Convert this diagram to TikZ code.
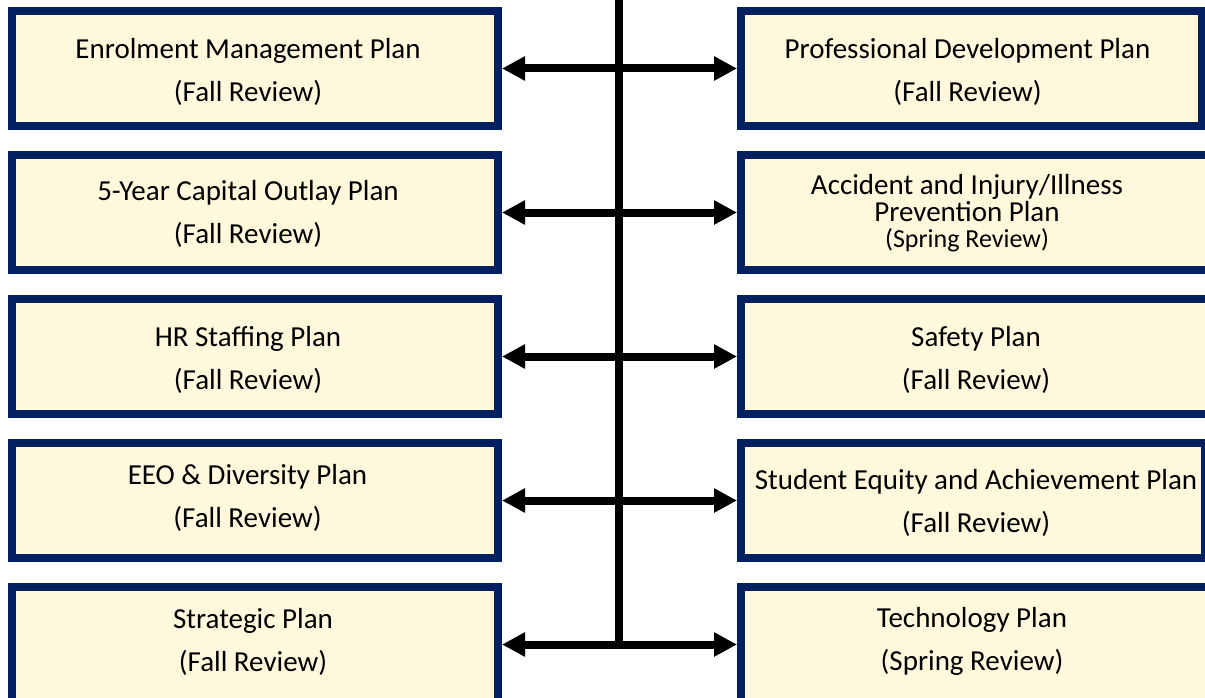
\documentclass[tikz,border=0pt]{standalone}
\usepackage{fontspec}
\setmainfont{Carlito}
\usetikzlibrary{positioning,arrows.meta}
\definecolor{planblue}{HTML}{002060}
\definecolor{plancream}{HTML}{FFF8DC}
\tikzset{
  plan/.style={draw=planblue,line width=8pt,fill=plancream,minimum height=115pt,inner sep=0pt,outer sep=4pt},
  leftplan/.style={plan,minimum width=486pt},
  rightplan/.style={plan,minimum width=#1},
  plantext/.style={align=center,inner sep=0pt,font=\fontsize{29}{43}\selectfont},
  link/.style={line width=8pt,{Triangle[length=23pt,width=23pt]}-{Triangle[length=23pt,width=23pt]}},
  spine/.style={line width=8pt}
}
\begin{document}
\begin{tikzpicture}[x=1pt,y=-1pt,line join=miter]
	\useasboundingbox (0,0) rectangle (1205,698);
	\node[leftplan] (L1) at (255,68.5) {};
	\node[leftplan,below=21pt of L1] (L2) {};
	\node[leftplan,below=21pt of L2] (L3) {};
	\node[leftplan,below=21pt of L3] (L4) {};
	\node[leftplan,below=21pt of L4] (L5) {};
	\node[rightplan=461pt,right=235pt of L1] (R1) {};
	\node[rightplan=468pt,right=235pt of L2] (R2) {};
	\node[rightplan=468pt,right=235pt of L3] (R3) {};
	\node[rightplan=464pt,right=235pt of L4] (R4) {};
	\node[rightplan=468pt,right=235pt of L5] (R5) {};
	\node[plantext] (L1text) at ([shift={(-7,3)}]L1.center) {Enrolment Management Plan\\(Fall Review)};
	\node[plantext] (L2text) at ([shift={(-7,1)}]L2.center) {5-Year Capital Outlay Plan\\(Fall Review)};
	\node[plantext] (L3text) at ([shift={(-7,3)}]L3.center) {HR Staffing Plan\\(Fall Review)};
	\node[plantext] (L4text) at ([shift={(-7.5,-3)}]L4.center) {EEO \& Diversity Plan\\(Fall Review)};
	\node[plantext] (L5text) at ([shift={(-2,-3)}]L5.center) {Strategic Plan\\(Fall Review)};
	\node[plantext] (R1text) at ([shift={(-4,3)}]R1.center) {Professional Development Plan\\(Fall Review)};
	\node[plantext,font=\fontsize{29}{26.5}\selectfont] (R2text) at ([shift={(-8,1)}]R2.center) {Accident and Injury/Illness\\Prevention Plan\\\fontsize{26}{26.5}\selectfont(Spring Review)};
	\node[plantext] (R3text) at ([shift={(1,3)}]R3.center) {Safety Plan\\(Fall Review)};
	\node[plantext] (R4text) at ([shift={(3,2.5)}]R4.center) {Student Equity and Achievement Plan\\(Fall Review)};
	\node[plantext] (R5text) at ([shift={(-3,-3)}]R5.center) {Technology Plan\\(Spring Review)};
	\coordinate (top) at (619,-10);
	\draw[spine] (top) -- (top |- L5.east);
	\foreach \i in {1,...,5}
	\draw[link] (L\i.east) -- (R\i.west);
\end{tikzpicture}
\end{document}
